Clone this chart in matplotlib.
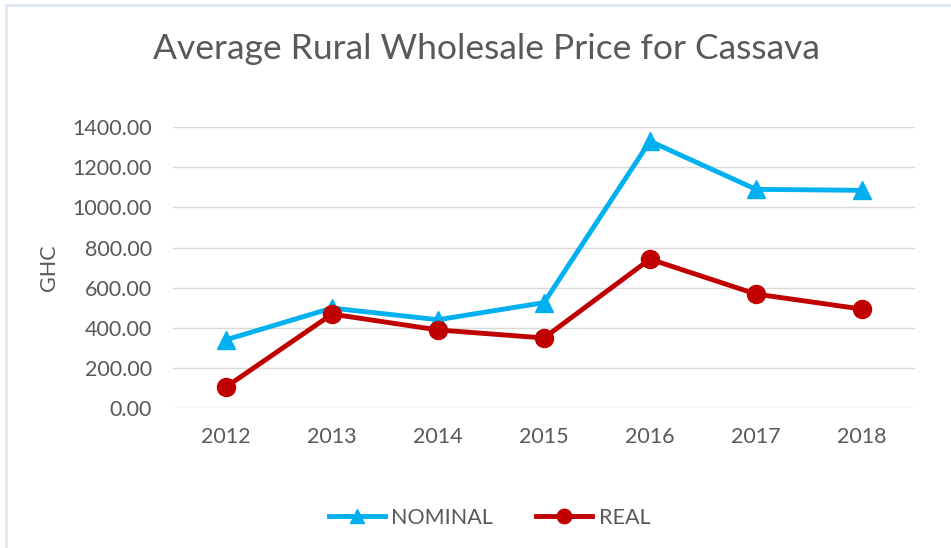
import matplotlib.pyplot as plt
from matplotlib.patches import Rectangle

years = ["2012", "2013", "2014", "2015", "2016", "2017", "2018"]
nominal = [340, 498, 440, 525, 1330, 1090, 1085]
real = [105, 468, 389, 349, 742, 568, 493]

plt.rcParams['font.family'] = ['Lato', 'DejaVu Sans']

fig = plt.figure(figsize=(9.51, 5.48), dpi=100)
ax = fig.add_axes([0.182, 0.2555, 0.780, 0.5125])

x = list(range(len(years)))
ax.plot(x, nominal, color='#00b0f0', lw=3.5, marker='^', markersize=13, label='NOMINAL')
ax.plot(x, real, color='#c00000', lw=3.5, marker='o', markersize=13, label='REAL')

ax.set_xlim(-0.5, len(years) - 0.5)
ax.set_ylim(0, 1400)
ax.set_yticks(range(0, 1401, 200))
ax.set_yticklabels([f"{v:.2f}" for v in range(0, 1401, 200)])
ax.set_xticks(x)
ax.set_xticklabels(years)
ax.grid(axis='y', color='#d9d9d9', lw=1)
ax.set_axisbelow(True)
for s in ax.spines.values():
    s.set_visible(False)
ax.tick_params(length=0, labelsize=15.5, colors='#595959', pad=15)
ax.tick_params(axis='x', pad=14)
ax.set_ylabel('GHC', fontsize=15.5, color='#595959', labelpad=10)

fig.text(0.512, 0.91, 'Average Rural Wholesale Price for Cassava', ha='center', va='center',
         fontsize=25.5, color='#595959')

fig.legend(loc='center', bbox_to_anchor=(0.515, 0.055), ncol=2, frameon=False,
           fontsize=15.5, labelcolor='#595959', handlelength=2.6, columnspacing=2.0,
           handletextpad=0.3, markerscale=0.8)

fig.patches.append(Rectangle((0.006, -0.1), 1.2, 1.09, transform=fig.transFigure,
                             fill=False, edgecolor='#dde8f5', lw=2))

fig.savefig('out.png', dpi=100)
